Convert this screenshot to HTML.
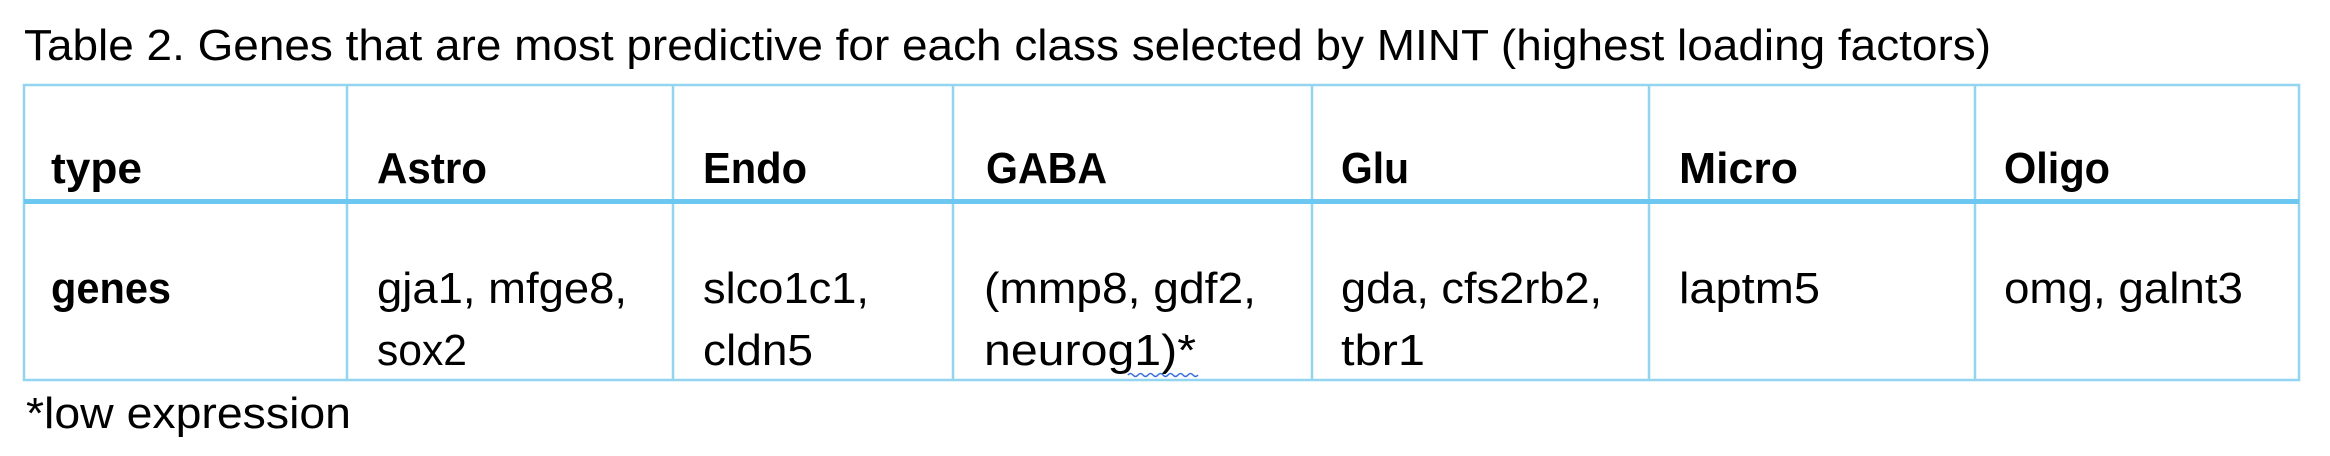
<!DOCTYPE html>
<html><head><meta charset="utf-8"><style>html,body{margin:0;padding:0;background:#fff;}svg{display:block}</style></head>
<body>
<svg width="2330" height="456" viewBox="0 0 2330 456" xmlns="http://www.w3.org/2000/svg" font-family="Liberation Sans, sans-serif" fill="#000">
<text x="24" y="60" font-size="44" textLength="1967" lengthAdjust="spacingAndGlyphs">Table 2. Genes that are most predictive for each class selected by MINT (highest loading factors)</text>
<g stroke="#93d5f0" stroke-width="2.5" fill="none">
<rect x="24" y="85" width="2275" height="295"/>
<line x1="347" y1="85" x2="347" y2="380"/>
<line x1="673" y1="85" x2="673" y2="380"/>
<line x1="953" y1="85" x2="953" y2="380"/>
<line x1="1312" y1="85" x2="1312" y2="380"/>
<line x1="1649" y1="85" x2="1649" y2="380"/>
<line x1="1975" y1="85" x2="1975" y2="380"/>
</g>
<rect x="24" y="199" width="2275" height="5" fill="#6cc8f0"/>
<g font-size="44" font-weight="bold">
<text x="51" y="183" textLength="91" lengthAdjust="spacingAndGlyphs">type</text>
<text x="377" y="183" textLength="110" lengthAdjust="spacingAndGlyphs">Astro</text>
<text x="703" y="183" textLength="104" lengthAdjust="spacingAndGlyphs">Endo</text>
<text x="986" y="183" textLength="121" lengthAdjust="spacingAndGlyphs">GABA</text>
<text x="1341" y="183" textLength="68" lengthAdjust="spacingAndGlyphs">Glu</text>
<text x="1679" y="183" textLength="119" lengthAdjust="spacingAndGlyphs">Micro</text>
<text x="2004" y="183" textLength="106" lengthAdjust="spacingAndGlyphs">Oligo</text>
<text x="51" y="303" textLength="120" lengthAdjust="spacingAndGlyphs">genes</text>
</g>
<g font-size="44">
<text x="377" y="303" textLength="250" lengthAdjust="spacingAndGlyphs">gja1, mfge8,</text>
<text x="377" y="365" textLength="90" lengthAdjust="spacingAndGlyphs">sox2</text>
<text x="703" y="303" textLength="166" lengthAdjust="spacingAndGlyphs">slco1c1,</text>
<text x="703" y="365" textLength="110" lengthAdjust="spacingAndGlyphs">cldn5</text>
<text x="984" y="303" textLength="272" lengthAdjust="spacingAndGlyphs">(mmp8, gdf2,</text>
<text x="984" y="365" textLength="212" lengthAdjust="spacingAndGlyphs">neurog1)*</text>
<text x="1341" y="303" textLength="261" lengthAdjust="spacingAndGlyphs">gda, cfs2rb2,</text>
<text x="1341" y="365" textLength="84" lengthAdjust="spacingAndGlyphs">tbr1</text>
<text x="1679" y="303" textLength="141" lengthAdjust="spacingAndGlyphs">laptm5</text>
<text x="2004" y="303" textLength="239" lengthAdjust="spacingAndGlyphs">omg, galnt3</text>
<text x="26" y="428" textLength="325" lengthAdjust="spacingAndGlyphs">*low expression</text>
</g>
<path d="M1128 375 q2.5 -3 5 0 t5 0 t5 0 t5 0 t5 0 t5 0 t5 0 t5 0 t5 0 t5 0 t5 0 t5 0 t5 0 t5 0" stroke="#3a6fe0" stroke-width="1.5" fill="none"/>
</svg>
</body></html>
